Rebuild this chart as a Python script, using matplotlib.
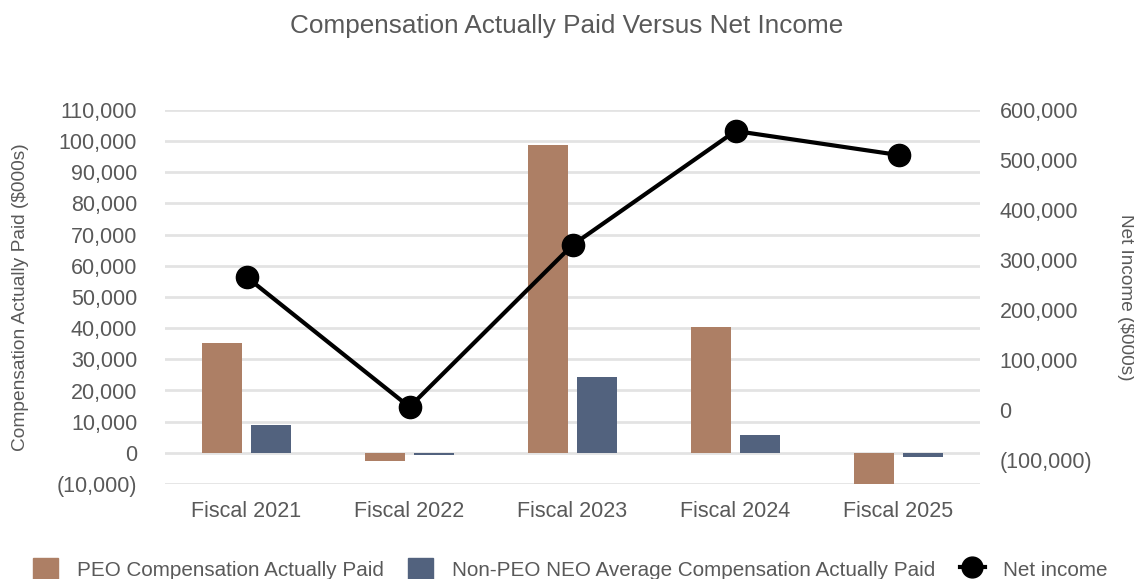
import matplotlib.pyplot as plt
import matplotlib.ticker as mticker
import numpy as np
from matplotlib.lines import Line2D
from matplotlib.patches import Patch

plt.rcParams['font.family'] = ['Liberation Sans Narrow', 'Liberation Sans', 'DejaVu Sans']

years = ["Fiscal 2021", "Fiscal 2022", "Fiscal 2023", "Fiscal 2024", "Fiscal 2025"]
peoCap = [35300, -2600, 98800, 40400, -10000]
neoCap = [9000, -700, 24400, 5800, -1300]
netIncome = [266000, 6000, 330000, 558000, 510000]

brown = "#AD7F65"
navy = "#52627E"
textGray = "#595959"


def parenFormat(v, pos):
    if abs(v) < 1e-9:
        return "0"
    if v < 0:
        return "({:,.0f})".format(-v)
    return "{:,.0f}".format(v)


fig = plt.figure(figsize=(11.34, 5.79), dpi=100)
ax = fig.add_axes([165 / 1134, 95 / 579, 815 / 1134, 374 / 579])
x = np.arange(len(years))
ax.bar(x - 0.15, peoCap, width=0.245, color=brown, zorder=2)
ax.bar(x + 0.15, neoCap, width=0.245, color=navy, zorder=2)
ax.set_xlim(-0.5, len(years) - 0.5)
ax.set_ylim(-10000, 110000)
ax.set_yticks(np.arange(-10000, 110001, 10000))
ax.yaxis.set_major_formatter(mticker.FuncFormatter(parenFormat))
ax.set_xticks(x)
ax.set_xticklabels(years)
ax.grid(axis='y', color="#e3e3e3", linewidth=2, zorder=0)
ax.set_axisbelow(True)
for s in ax.spines.values():
    s.set_visible(False)
ax.tick_params(length=0, labelsize=15.5, labelcolor=textGray, pad=20)
ax.tick_params(axis='x', pad=12)
ax.set_ylabel("Compensation Actually Paid ($000s)", fontsize=13.8, color=textGray, labelpad=20)

ax2 = ax.twinx()
ax2.plot(x, netIncome, color="black", linewidth=3, marker="o", markersize=16, zorder=3)
ax2.set_ylim(-148000, 600000)
ax2.set_yticks(np.arange(-100000, 600001, 100000))
ax2.yaxis.set_major_formatter(mticker.FuncFormatter(parenFormat))
for s in ax2.spines.values():
    s.set_visible(False)
ax2.tick_params(length=0, labelsize=15.5, labelcolor=textGray, pad=14)
ax2.set_ylabel("Net Income ($000s)", fontsize=13.7, color=textGray, rotation=270, labelpad=30)

fig.suptitle("Compensation Actually Paid Versus Net Income", fontsize=18.8, color=textGray, y=0.975)

handles = [Patch(color=brown, label="PEO Compensation Actually Paid"),
           Patch(color=navy, label="Non-PEO NEO Average Compensation Actually Paid"),
           Line2D([], [], color="black", linewidth=3, marker="o", markersize=15, label="Net income")]
leg = fig.legend(handles=handles, loc="lower center", bbox_to_anchor=(0.503, -0.035), ncol=3, frameon=False,
                 fontsize=14.9, handlelength=1.2, handleheight=1.3, columnspacing=1.2, handletextpad=0.9)
for t in leg.get_texts():
    t.set_color(textGray)

plt.savefig("out.png", dpi=100)
